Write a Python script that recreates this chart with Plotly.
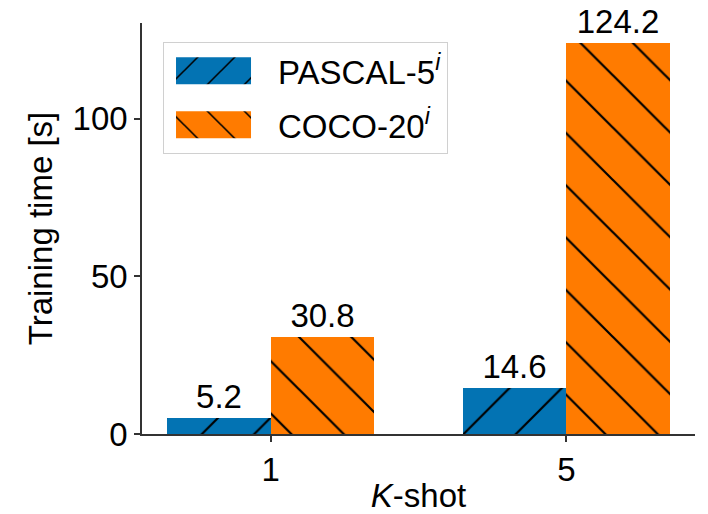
import plotly.graph_objects as go

shots = ["1", "5"]
pascal = [5.2, 14.6]
coco = [30.8, 124.2]
series_names = ["PASCAL-5<sup><i>i</i></sup>", "COCO-20<sup><i>i</i></sup>"]

FONT = "Liberation Sans, Arial, Helvetica, sans-serif"
FS = 33
BLUE = "#0373b3"
ORANGE = "#ff7b00"

xpos = list(range(len(shots)))
W = 0.35

fig = go.Figure()
fig.add_trace(go.Bar(
    x=xpos, y=pascal, width=W, offset=-W, name=series_names[0], legendgroup="a",
    marker=dict(color=BLUE, line=dict(width=0),
                pattern=dict(shape="/", fgcolor="black", fgopacity=1, bgcolor=BLUE, size=37, solidity=0.06)),
    text=[f"{v:.1f}" for v in pascal], textposition="outside",
    textfont=dict(size=FS, color="black", family=FONT), cliponaxis=False,
))
fig.add_trace(go.Bar(
    x=xpos, y=coco, width=W, offset=0, name=series_names[1], legendgroup="b",
    marker=dict(color=ORANGE, line=dict(width=0),
                pattern=dict(shape="\\", fgcolor="black", fgopacity=1, bgcolor=ORANGE, size=37, solidity=0.06)),
    text=[f"{v:.1f}" for v in coco], textposition="outside",
    textfont=dict(size=FS, color="black", family=FONT), cliponaxis=False,
))

fig.update_layout(
    width=708, height=514,
    margin=dict(l=142, r=13, t=23, b=80, autoexpand=False),
    paper_bgcolor="white", plot_bgcolor="white",
    font=dict(family=FONT, size=FS, color="black"),
    showlegend=True,
    legend=dict(x=0.038, y=0.954, xanchor="left", yanchor="top",
                bgcolor="white", bordercolor="#d0d0d0", borderwidth=1,
                font=dict(size=FS, family=FONT, color="black"),
                itemwidth=104, tracegroupgap=8),
    bargap=0,
)
fig.update_xaxes(
    range=[-0.435, 1.435], tickvals=xpos, ticktext=shots,
    showline=True, linecolor="#333333", linewidth=1.5,
    ticks="outside", ticklen=6, tickwidth=1.5, tickcolor="#333333",
    showgrid=False, zeroline=False, automargin=False,
    title=dict(text="<i>K</i>-shot", font=dict(size=FS, family=FONT), standoff=4),
    tickfont=dict(size=FS, family=FONT),
)
fig.update_yaxes(
    range=[0, 130.41], tickvals=[0, 50, 100],
    showline=True, linecolor="#333333", linewidth=1.5,
    ticks="outside", ticklen=6, tickwidth=1.5, tickcolor="#333333",
    showgrid=False, zeroline=False, automargin=False,
    title=dict(text="Training time [s]", font=dict(size=FS, family=FONT), standoff=10),
    tickfont=dict(size=FS, family=FONT),
)

post = """
document.body.style.margin='0';
var gd = document.getElementById('{plot_id}');
function bigSwatches(){
  gd.querySelectorAll('.legend .legendpoints path').forEach(function(p){
    p.setAttribute('d','M30,13.5H-45V-13.5H30Z');
    var f = p.getAttribute('fill') || p.style.fill || '';
    var m = f.match(/#([^'")]+)/);
    if (m) {
      var pat = document.getElementById(m[1]);
      if (pat) {
        var w = parseFloat(pat.getAttribute('width')) || 12;
        var k = 37 / w;
        pat.setAttribute('patternTransform', 'scale(' + k + ')');
      }
    }
  });
}
bigSwatches();
if (gd.on) { gd.on('plotly_afterplot', bigSwatches); }
"""
fig.write_html("out.html", post_script=post, config={"displayModeBar": False})
